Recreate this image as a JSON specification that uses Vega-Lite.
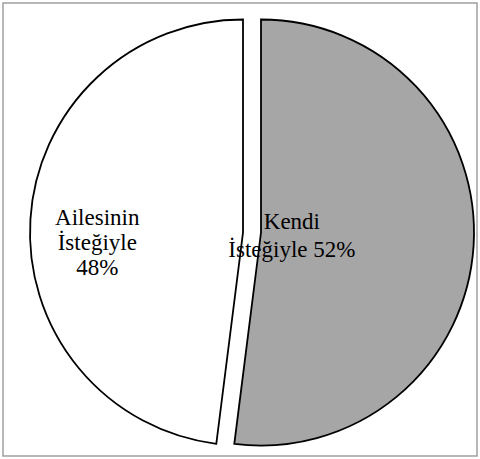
{
  "$schema": "https://vega.github.io/schema/vega-lite/v6.json",
  "width": 480,
  "height": 459,
  "autosize": {"type": "fit", "contains": "padding"},
  "padding": 2,
  "background": "white",
  "config": {"view": {"stroke": null}},
  "data": {
    "values": [
      {"kategori": "Kendi İsteğiyle", "yuzde": 52, "sira": 1, "etiket": "Kendi\nİsteğiyle 52%"},
      {"kategori": "Ailesinin İsteğiyle", "yuzde": 48, "sira": 2, "etiket": "Ailesinin\nİsteğiyle\n48%"}
    ]
  },
  "transform": [
    {"stack": "yuzde", "groupby": [], "sort": [{"field": "sira", "order": "ascending"}], "as": ["t0", "t1"]}
  ],
  "layer": [
    {
      "transform": [{"filter": "datum.sira == 1"}],
      "mark": {"type": "rect", "fill": null, "stroke": "#a0a0a0", "strokeWidth": 1.5},
      "encoding": {}
    },
    {
      "transform": [{"filter": "datum.sira == 1"}],
      "mark": {"type": "arc", "outerRadius": 213, "stroke": "black", "strokeWidth": 1.8, "fill": "#a6a6a6", "xOffset": 21, "yOffset": 3},
      "encoding": {
        "theta": {"field": "t0", "type": "quantitative", "scale": {"domain": [0, 100]}},
        "theta2": {"field": "t1"}
      }
    },
    {
      "transform": [{"filter": "datum.sira == 2"}],
      "mark": {"type": "arc", "outerRadius": 213, "stroke": "black", "strokeWidth": 1.8, "fill": "#ffffff", "xOffset": 3, "yOffset": 3},
      "encoding": {
        "theta": {"field": "t0", "type": "quantitative", "scale": {"domain": [0, 100]}},
        "theta2": {"field": "t1"}
      }
    },
    {
      "mark": {"type": "text", "radius": 143, "dy": -3, "font": "Liberation Serif", "fontSize": 23, "lineBreak": "\n", "lineHeight": 25, "color": "black", "align": "center", "baseline": "middle"},
      "encoding": {
        "theta": {"field": "yuzde", "type": "quantitative", "stack": true, "scale": {"domain": [0, 100]}},
        "order": {"field": "sira", "type": "quantitative"},
        "text": {"condition": {"test": "datum.sira == 2", "field": "etiket"}, "value": ""}
      }
    },
    {
      "mark": {"type": "text", "radius": 52, "dy": -11, "font": "Liberation Serif", "fontSize": 23, "lineBreak": "\n", "lineHeight": 28, "color": "black", "align": "center", "baseline": "middle"},
      "encoding": {
        "theta": {"field": "yuzde", "type": "quantitative", "stack": true, "scale": {"domain": [0, 100]}},
        "order": {"field": "sira", "type": "quantitative"},
        "text": {"condition": {"test": "datum.sira == 1", "field": "etiket"}, "value": ""}
      }
    }
  ]
}
